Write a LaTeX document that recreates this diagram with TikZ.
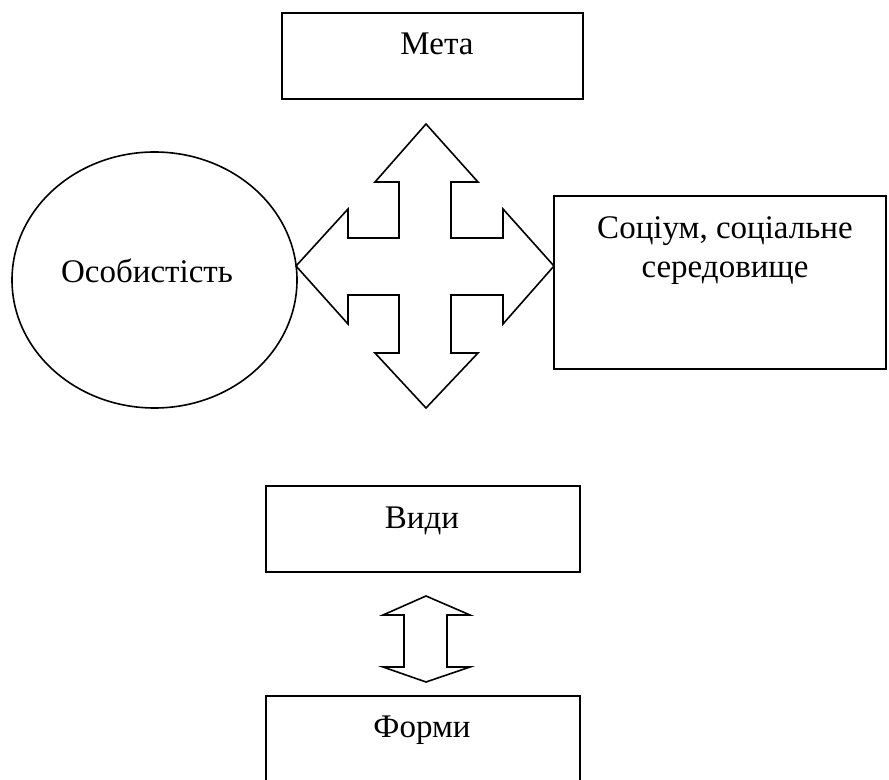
\documentclass[tikz,border=0pt]{standalone}
\usepackage{fontspec}
\setmainfont{Liberation Serif}
\usetikzlibrary{shapes,positioning,calc}

\begin{document}
\begin{tikzpicture}[x=0.5pt, y=-0.5pt,
    frame/.style={draw, line width=1.1pt, inner sep=0pt},
    txt/.style={inner sep=0pt, font=\fontsize{16.5}{19.5}\selectfont},
    blockarrow/.style={draw, line width=0.8pt, line join=miter}]
      \clip (0,0) rectangle (889,780);

      % frames
      \node[frame, minimum width=150.5pt, minimum height=43pt] (meta) at (432.5,56) {};
      \node[frame, ellipse, line width=0.8pt, minimum width=142.5pt, minimum height=128pt] (osob) at (154.5,280) {};
      \node[frame, minimum width=166pt, minimum height=86.5pt] (soc) at (720,282.5) {};
      \node[frame, minimum width=157pt, minimum height=43pt] (vydy) at (423,529) {};
      \node[frame, minimum width=157pt, minimum height=62pt] (formy) at (423,758) {};

      % texts
      \node[txt, anchor=base] (metaT) at (437,55) {Мета};
      \node[txt, anchor=base] (osobT) at (147,283) {Особистість};
      \node[txt, anchor=north, align=center] (socT) at (725,216) {Соціум, соціальне\\середовище};
      \node[txt, anchor=base] (vydyT) at (422,529) {Види};
      \node[txt, anchor=base] (formyT) at (422,737) {Форми};

      % four-way arrow
      \draw[blockarrow] (426,124) -- (478,182) -- (451,182) -- (451,238) -- (503,238) -- (503,209)
        -- (554,266) -- (503,324) -- (503,295) -- (451,295) -- (451,353) -- (478,353)
        -- (426,408) -- (375,353) -- (399,353) -- (399,295) -- (348,295) -- (348,324)
        -- (296,266) -- (348,209) -- (348,238) -- (399,238) -- (399,182) -- (375,182) -- cycle;

      % double arrow
      \draw[blockarrow] (426,596) -- (470,615) -- (447,615) -- (447,667) -- (470,667)
        -- (426,682) -- (383,667) -- (404,667) -- (404,615) -- (383,615) -- cycle;
    \end{tikzpicture}
\end{document}
